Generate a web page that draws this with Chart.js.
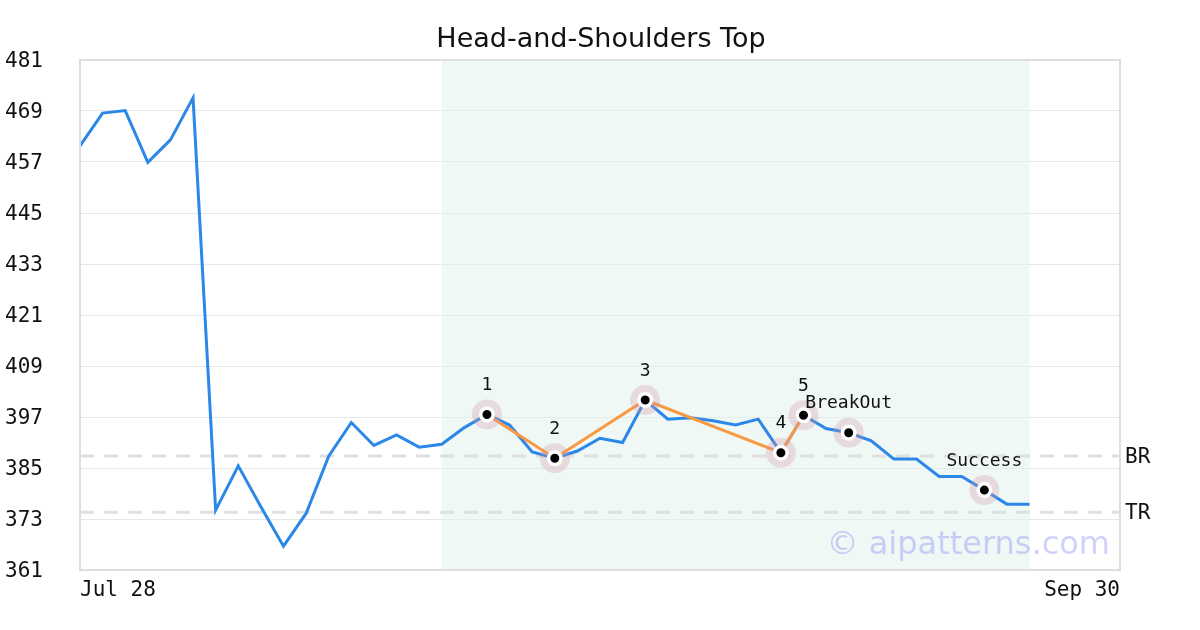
<!DOCTYPE html>
<html>
<head>
<meta charset="utf-8">
<script src="https://cdn.jsdelivr.net/npm/chart.js@4"></script>
<style>
html, body { margin: 0; padding: 0; background: #fff; }
#wrap { width: 1200px; height: 630px; }
</style>
</head>
<body>
<div id="wrap"><canvas id="hs_chart" width="1200" height="630"></canvas></div>
<script>
// данные
const dates = ['Jul 28','Jul 29','Jul 30','Jul 31','Aug 1','Aug 4','Aug 5','Aug 6','Aug 7','Aug 8',
	'Aug 11','Aug 12','Aug 13','Aug 14','Aug 15','Aug 18','Aug 19','Aug 20','Aug 21','Aug 22',
	'Aug 25','Aug 26','Aug 27','Aug 28','Aug 29','Sep 1','Sep 2','Sep 3','Sep 4','Sep 5',
	'Sep 8','Sep 9','Sep 10','Sep 11','Sep 12','Sep 15','Sep 16','Sep 17','Sep 18','Sep 19',
	'Sep 22','Sep 23','Sep 24','Sep 25','Sep 26','Sep 29','Sep 30']
const closePrice = [460.8,468.5,469.1,456.9,462.2,472.1,375.1,385.5,375.9,366.6,
	374.3,387.8,395.7,390.3,392.8,389.9,390.6,394.5,397.6,395.1,
	388.8,387.3,389.0,392.0,391.0,401.0,396.5,396.8,396.1,395.1,
	396.5,388.6,397.4,394.3,393.3,391.4,387.1,387.1,383.0,383.0,
	379.8,376.5,376.5,null,null,null,null]
const patternIdx = [18,21,25,31,32]
const patternTags = ['1','2','3','4','5']
const signalIdx = [34,40]
const signalTags = ['BreakOut','Success']
const levelValues = [387.8,374.6]
const levelTags = ['BR','TR']
const zoneFrom = 16
const zoneTo = 42
const yTicks = [361,373,385,397,409,421,433,445,457,469,481]

const monoFont = "'DejaVu Sans Mono', monospace"
const sansFont = "'DejaVu Sans', sans-serif"

const patternLine = dates.map((d, i) => patternIdx.includes(i) ? closePrice[i] : null)
const markIdx = patternIdx.concat(signalIdx)
const markPoints = dates.map((d, i) => markIdx.includes(i) ? closePrice[i] : null)

const decorPlugin = {
	id: 'decor',
	beforeDatasetsDraw(chart){
		const c = chart.ctx
		const a = chart.chartArea
		const x = chart.scales.x
		const y = chart.scales.y
		c.save()
		// зона паттерна
		c.fillStyle = 'rgba(226,243,236,0.55)'
		const x1 = x.getPixelForValue(zoneFrom)
		const x2 = x.getPixelForValue(zoneTo)
		c.fillRect(x1, a.top, x2 - x1, a.bottom - a.top)
		// уровни
		c.strokeStyle = '#e0e0e0'
		c.lineWidth = 3
		c.setLineDash([14,10])
		levelValues.forEach(v => {
			const py = y.getPixelForValue(v)
			c.beginPath()
			c.moveTo(a.left, py)
			c.lineTo(a.right, py)
			c.stroke()
		})
		c.restore()
	},
	afterDatasetsDraw(chart){
		const c = chart.ctx
		const a = chart.chartArea
		const x = chart.scales.x
		const y = chart.scales.y
		c.save()
		c.strokeStyle = '#dedede'
		c.lineWidth = 2
		c.strokeRect(a.left, a.top, a.right - a.left, a.bottom - a.top)
		c.fillStyle = '#111'
		// подписи оси Y
		c.font = "21px " + monoFont
		c.textAlign = 'left'
		c.textBaseline = 'middle'
		yTicks.forEach(v => c.fillText(String(v), 5, y.getPixelForValue(v) + 2))
		c.font = "18px " + monoFont
		c.textAlign = 'center'
		patternIdx.forEach((idx, k) => {
			c.fillText(patternTags[k], x.getPixelForValue(idx), y.getPixelForValue(closePrice[idx]) - 29)
		})
		signalIdx.forEach((idx, k) => {
			c.fillText(signalTags[k], x.getPixelForValue(idx), y.getPixelForValue(closePrice[idx]) - 29)
		})
		c.font = "21px " + monoFont
		c.textAlign = 'left'
		levelValues.forEach((v, k) => {
			c.fillText(levelTags[k], a.right + 5, y.getPixelForValue(v) + 1)
		})
		// заголовок
		c.font = "27px " + sansFont
		c.textAlign = 'center'
		c.fillText('Head-and-Shoulders Top', 601, 40)
		// водяной знак
		c.font = "32px " + sansFont
		c.fillStyle = 'rgba(110,115,245,0.32)'
		c.textAlign = 'right'
		c.textBaseline = 'alphabetic'
		c.fillText('© aipatterns.com', a.right - 10, a.bottom - 16)
		c.restore()
	}
}

const ctx = document.getElementById('hs_chart').getContext('2d')
const hsChart = new Chart(ctx, {
	type: 'line',
	data: {
		labels: dates,
		datasets: [{
			data: closePrice,
			borderColor: '#2b87e8',
			borderWidth: 3,
			pointRadius: 0,
			tension: 0,
			order: 4
		},{
			data: patternLine,
			borderColor: '#f79a43',
			borderWidth: 3,
			pointRadius: 0,
			spanGaps: true,
			order: 3
		},{
			data: markPoints,
			showLine: false,
			pointRadius: 15,
			pointBackgroundColor: 'rgba(210,150,165,0.3)',
			pointBorderWidth: 0,
			order: 2
		},{
			data: markPoints,
			showLine: false,
			pointRadius: 6.25,
			pointBackgroundColor: '#000',
			pointBorderColor: '#fff',
			pointBorderWidth: 3.5,
			order: 1
		}]
	},
	options: {
		responsive: false,
		animation: false,
		events: [],
		layout: { padding: { left: 5, right: 80, top: 60, bottom: 18 } },
		plugins: { legend: { display: false }, title: { display: false }, tooltip: { enabled: false } },
		scales: {
			x: {
				grid: { display: false },
				border: { display: false },
				ticks: {
					autoSkip: false,
					maxRotation: 0,
					align: 'inner',
					padding: 0,
					color: '#111',
					font: { size: 21, family: monoFont },
					callback: (v, i) => (i === 0 || i === dates.length - 1) ? dates[i] : ''
				},
				afterFit(scale){ scale.height = 42 }
			},
			y: {
				min: 361,
				max: 481,
				afterBuildTicks(scale){ scale.ticks = yTicks.map(v => ({ value: v })) },
				grid: { color: '#e6e6e6', lineWidth: 1, drawTicks: false },
				border: { display: false },
				ticks: { display: false },
				afterFit(scale){ scale.width = 75 }
			}
		}
	},
	plugins: [decorPlugin]
})
</script>
</body>
</html>
